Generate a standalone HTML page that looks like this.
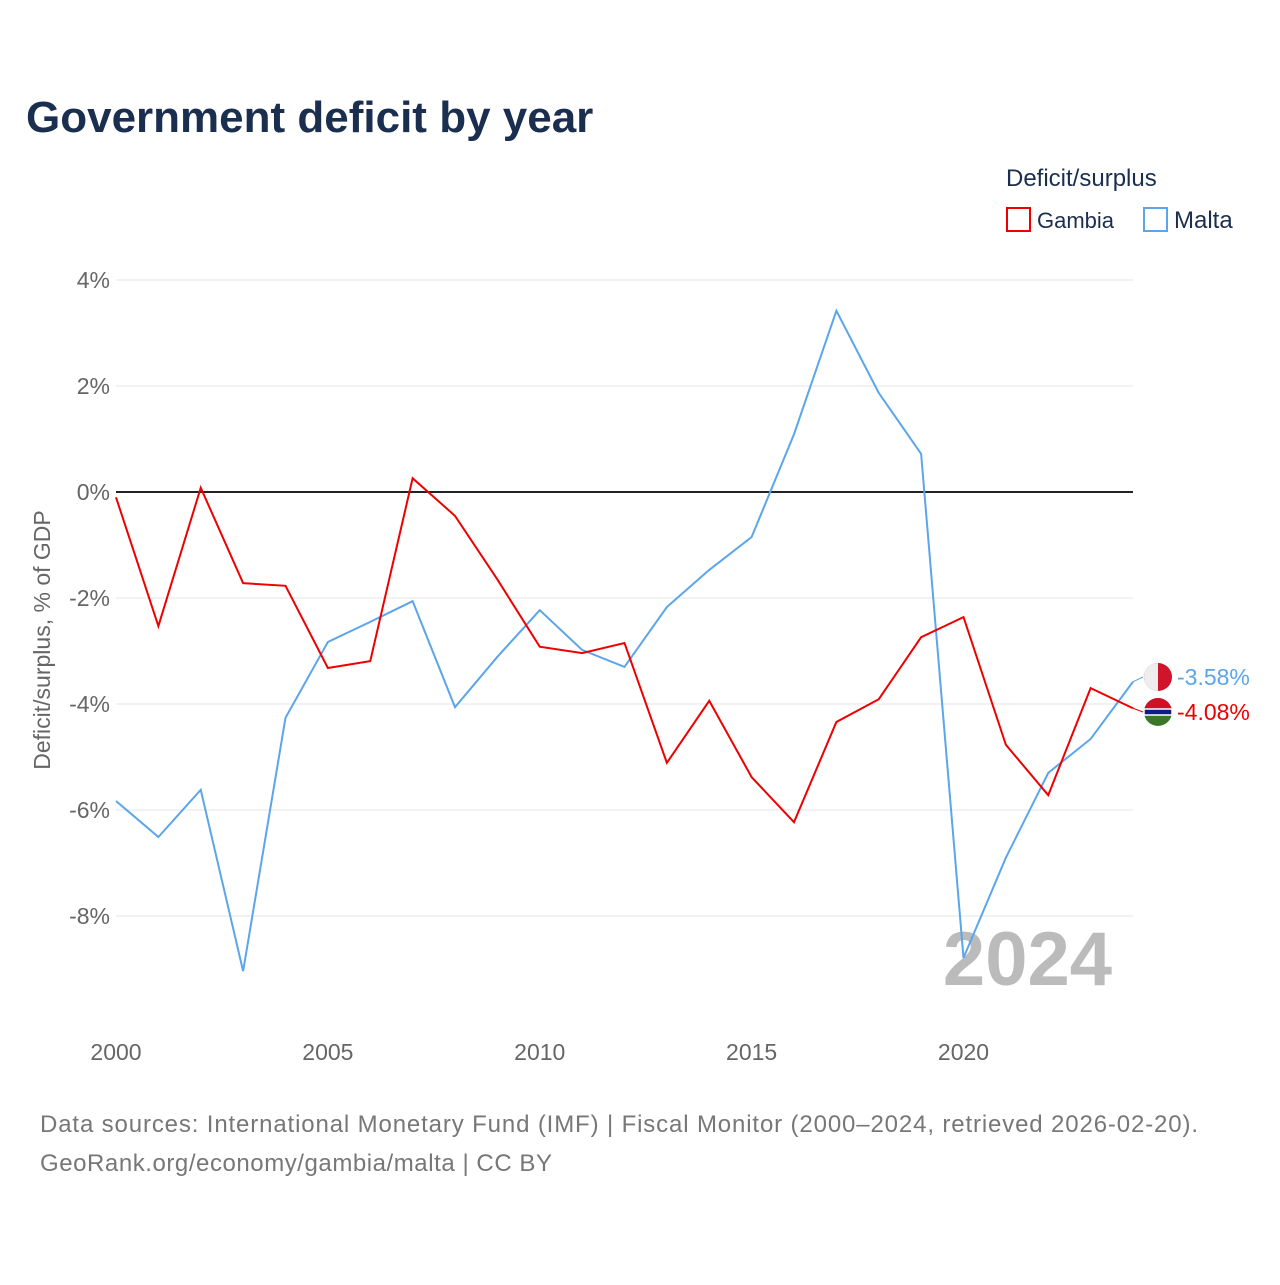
<!DOCTYPE html>
<html><head><meta charset="utf-8"><style>
body{margin:0;background:#fff;font-family:"Liberation Sans",sans-serif}
</style></head><body>
<svg id="c" width="1280" height="1280" xmlns="http://www.w3.org/2000/svg">
<text x="26" y="132" font-size="44" font-weight="bold" fill="#1a2e4f">Government deficit by year</text>
<text x="1006" y="186" font-size="24" fill="#1a2e4f">Deficit/surplus</text>
<g><rect x="1007" y="208" width="23" height="23" fill="none" stroke="#e00" stroke-width="2"/><text x="1037" y="228" font-size="22" fill="#1a2e4f">Gambia</text></g>
<g><rect x="1144" y="208" width="23" height="23" fill="none" stroke="#5ba5ea" stroke-width="2"/><text x="1174" y="228" font-size="24" fill="#1a2e4f">Malta</text></g>
<text transform="translate(50,640) rotate(-90)" text-anchor="middle" font-size="23" fill="#666">Deficit/surplus, % of GDP</text>
<g id="grid"></g>
<text x="1112" y="985" text-anchor="end" font-size="76" font-weight="bold" fill="#bbb">2024</text>
<g id="series"></g>
<text x="40" y="1132" font-size="24" fill="#777" textLength="1158">Data sources: International Monetary Fund (IMF) | Fiscal Monitor (2000–2024, retrieved 2026-02-20).</text>
<text x="40" y="1171" font-size="24" fill="#777" textLength="512">GeoRank.org/economy/gambia/malta | CC BY</text>
</svg>
<script>
const years=[2000,2001,2002,2003,2004,2005,2006,2007,2008,2009,2010,2011,2012,2013,2014,2015,2016,2017,2018,2019,2020,2021,2022,2023,2024];
const gambia=[-0.1,-2.53,0.08,-1.72,-1.77,-3.32,-3.19,0.26,-0.45,-1.65,-2.92,-3.04,-2.85,-5.11,-3.94,-5.38,-6.23,-4.34,-3.91,-2.74,-2.36,-4.77,-5.72,-3.70,-4.08];
const malta=[-5.83,-6.51,-5.62,-9.04,-4.26,-2.83,-2.45,-2.06,-4.06,-3.11,-2.23,-2.98,-3.30,-2.17,-1.47,-0.85,1.09,3.42,1.87,0.72,-8.79,-6.9,-5.3,-4.66,-3.58];
const yTicks=[4,2,0,-2,-4,-6,-8];
const xTicks=[2000,2005,2010,2015,2020];
const NS="http://www.w3.org/2000/svg";
const X=v=>116+(v-2000)*(1133-116)/24;
const Y=v=>492-v*53;
function mk(t,a,p){const e=document.createElementNS(NS,t);for(const k in a)e.setAttribute(k,a[k]);p.appendChild(e);return e;}
const g=document.getElementById('grid'),s=document.getElementById('series');
yTicks.forEach(v=>{
 const l=mk('line',{x1:116,x2:1133,y1:Y(v),y2:Y(v),stroke:v===0?'#222':'#e6e6e6','stroke-width':v===0?2:1},g);
 
 
 const t=mk('text',{x:110,y:Y(v)+8,'text-anchor':'end','font-size':23,fill:'#666'},g);
 t.textContent=v+'%';
 
 
});
xTicks.forEach(v=>{
 const t=mk('text',{x:X(v),y:1060,'text-anchor':'middle','font-size':23,fill:'#666'},g);
 t.textContent=v;
 
 
});
function line(d,c,n){
 const p=mk('polyline',{points:d.map((v,i)=>X(years[i])+','+Y(v)).join(' '),fill:'none',stroke:c,'stroke-width':2},s);
 
 
}
line(malta,'#5ba5ea','malta-line');
line(gambia,'#e00','gambia-line');
function end(d,c,n,ly,flag){
 const last=d[d.length-1];
 mk('line',{x1:X(2024),y1:Y(last),x2:1143,y2:ly,stroke:c,'stroke-width':1},s);
 const f=mk('g',{},s);
 
 
 if(flag==='mt'){mk('circle',{cx:1158,cy:ly,r:14,fill:'#cf142b'},f);mk('path',{d:`M1158 ${ly-14} A14 14 0 0 0 1158 ${ly+14}Z`,fill:'#eee'},f);}
 else{mk('circle',{cx:1158,cy:ly,r:14,fill:'#3a7728'},f);mk('path',{d:`M1144 ${ly} A14 14 0 0 1 1172 ${ly}Z`,fill:'#ce1126'},f);mk('rect',{x:1144,y:ly-3,width:28,height:6,fill:'#0c1c8c',stroke:'#fff','stroke-width':1.5},f);}
 const t=mk('text',{x:1177,y:ly+8,'font-size':23,fill:c},s);
 t.textContent=last.toFixed(2)+'%';
 
 
}
end(malta,'#5ba5ea','malta',677,'mt');
end(gambia,'#e00','gambia',712,'gm');
</script>
</body></html>
